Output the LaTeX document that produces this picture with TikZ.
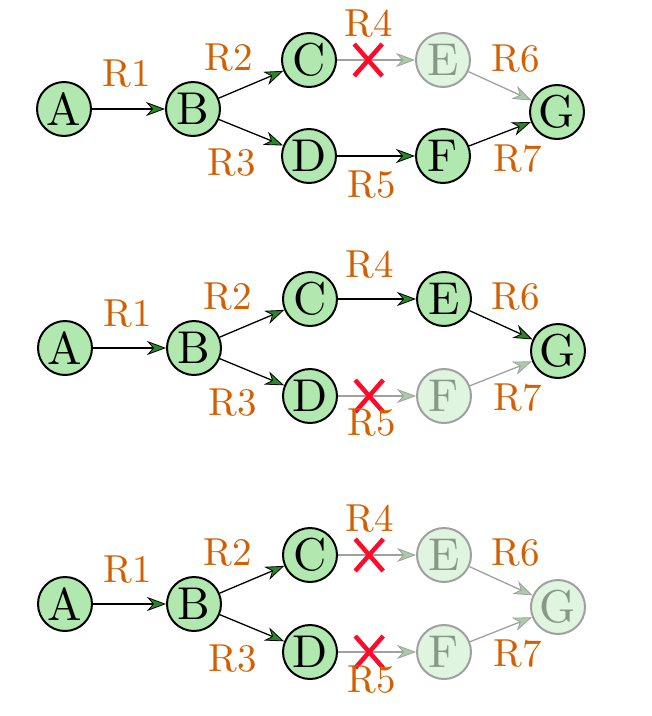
\documentclass[tikz,border=0pt]{standalone}
\usepackage{fontspec}
\setmainfont{lmroman10-regular}[Extension=.otf]
\usetikzlibrary{arrows.meta,calc}
\definecolor{ngreen}{HTML}{B0E8B0}
\definecolor{fgreen}{HTML}{DFF5DF}
\definecolor{fgray}{HTML}{A0A0A0}
\definecolor{ftext}{HTML}{889888}
\definecolor{agreen}{HTML}{258A25}
\definecolor{afgreen}{HTML}{A8CCA8}
\definecolor{lorange}{HTML}{D45F00}
\definecolor{xred}{HTML}{FF0A2A}
\tikzset{
  nd/.style={circle,draw=black,line width=2pt,fill=ngreen,minimum size=54pt,inner sep=0pt,font=\fontsize{46}{46}\selectfont},
  ndf/.style={nd,draw=fgray,fill=fgreen,text=ftext},
  lbl/.style={text=lorange,inner sep=0pt,font=\fontsize{39}{39}\selectfont},
  ed/.style={draw=black,line width=1.3pt,-{Stealth[length=19pt,width=14pt,inset=6pt,line width=0.8pt,fill=agreen]}},
  edf/.style={draw=fgray,line width=1.3pt,-{Stealth[length=19pt,width=14pt,inset=6pt,line width=0.8pt,fill=afgreen]}},
  xmark/.style={draw=xred,line width=4.5pt},
}
\begin{document}
\begin{tikzpicture}[x=1pt,y=-1pt]
\useasboundingbox (0,0) rectangle (652,716);
% ---------- row 1 ----------
\begin{scope}[shift={(0,108)}]
\node[nd] (A1) at (64,1) {A};
\node[nd] (B1) at (193,1) {B};
\node[nd] (C1) at (309,-48) {C};
\node[nd] (D1) at (309,48) {D};
\node[ndf] (E1) at (443,-48) {E};
\node[nd] (F1) at (443,48) {F};
\node[nd] (G1) at (557,4) {G};
\draw[ed] (A1) -- (B1);
\draw[ed] (B1) -- (C1);
\draw[ed] (B1) -- (D1);
\draw[edf] (C1) -- coordinate[pos=0.4] (x1) (E1);
\draw[ed] (D1) -- (F1);
\draw[edf] (E1) -- (G1);
\draw[ed] (F1) -- (G1);
\draw[xmark] ($(x1)+(-14,-16)$) -- ($(x1)+(14,16)$);
\draw[xmark] ($(x1)+(-14,16)$) -- ($(x1)+(14,-16)$);
\node[lbl] (r11) at (127,-34) {R1};
\node[lbl] (r12) at (229,-50) {R2};
\node[lbl] (r13) at (232,55) {R3};
\node[lbl] (r14) at (369,-84) {R4};
\node[lbl] (r15) at (372,77) {R5};
\node[lbl] (r16) at (516,-49) {R6};
\node[lbl] (r17) at (518,51) {R7};
\end{scope}
% ---------- row 2 ----------
\begin{scope}[shift={(0,347)}]
\node[nd] (A2) at (65,1) {A};
\node[nd] (B2) at (194,1) {B};
\node[nd] (C2) at (310,-48) {C};
\node[nd] (D2) at (310,49) {D};
\node[nd] (E2) at (444,-48) {E};
\node[ndf] (F2) at (444,49) {F};
\node[nd] (G2) at (558,4) {G};
\draw[ed] (A2) -- (B2);
\draw[ed] (B2) -- (C2);
\draw[ed] (B2) -- (D2);
\draw[ed] (C2) -- (E2);
\draw[edf] (D2) -- coordinate[pos=0.4] (x2) (F2);
\draw[ed] (E2) -- (G2);
\draw[edf] (F2) -- (G2);
\draw[xmark] ($(x2)+(-14,-16)$) -- ($(x2)+(14,16)$);
\draw[xmark] ($(x2)+(-14,16)$) -- ($(x2)+(14,-16)$);
\node[lbl] (r21) at (128,-33) {R1};
\node[lbl] (r22) at (228,-50) {R2};
\node[lbl] (r23) at (233,56) {R3};
\node[lbl] (r24) at (370,-82) {R4};
\node[lbl] (r25) at (372,76) {R5};
\node[lbl] (r26) at (516,-50) {R6};
\node[lbl] (r27) at (518,51) {R7};
\end{scope}
% ---------- row 3 ----------
\begin{scope}[shift={(0,603)}]
\node[nd] (A3) at (65,1) {A};
\node[nd] (B3) at (194,1) {B};
\node[nd] (C3) at (310,-48) {C};
\node[nd] (D3) at (310,49) {D};
\node[ndf] (E3) at (444,-48) {E};
\node[ndf] (F3) at (444,49) {F};
\node[ndf] (G3) at (558,4) {G};
\draw[ed] (A3) -- (B3);
\draw[ed] (B3) -- (C3);
\draw[ed] (B3) -- (D3);
\draw[edf] (C3) -- coordinate[pos=0.4] (x3) (E3);
\draw[edf] (D3) -- coordinate[pos=0.4] (x4) (F3);
\draw[edf] (E3) -- (G3);
\draw[edf] (F3) -- (G3);
\draw[xmark] ($(x3)+(-14,-16)$) -- ($(x3)+(14,16)$);
\draw[xmark] ($(x3)+(-14,16)$) -- ($(x3)+(14,-16)$);
\draw[xmark] ($(x4)+(-14,-16)$) -- ($(x4)+(14,16)$);
\draw[xmark] ($(x4)+(-14,16)$) -- ($(x4)+(14,-16)$);
\node[lbl] (r31) at (128,-33) {R1};
\node[lbl] (r32) at (228,-50) {R2};
\node[lbl] (r33) at (233,56) {R3};
\node[lbl] (r34) at (370,-84) {R4};
\node[lbl] (r35) at (372,77) {R5};
\node[lbl] (r36) at (516,-50) {R6};
\node[lbl] (r37) at (518,51) {R7};
\end{scope}
\end{tikzpicture}
\end{document}
